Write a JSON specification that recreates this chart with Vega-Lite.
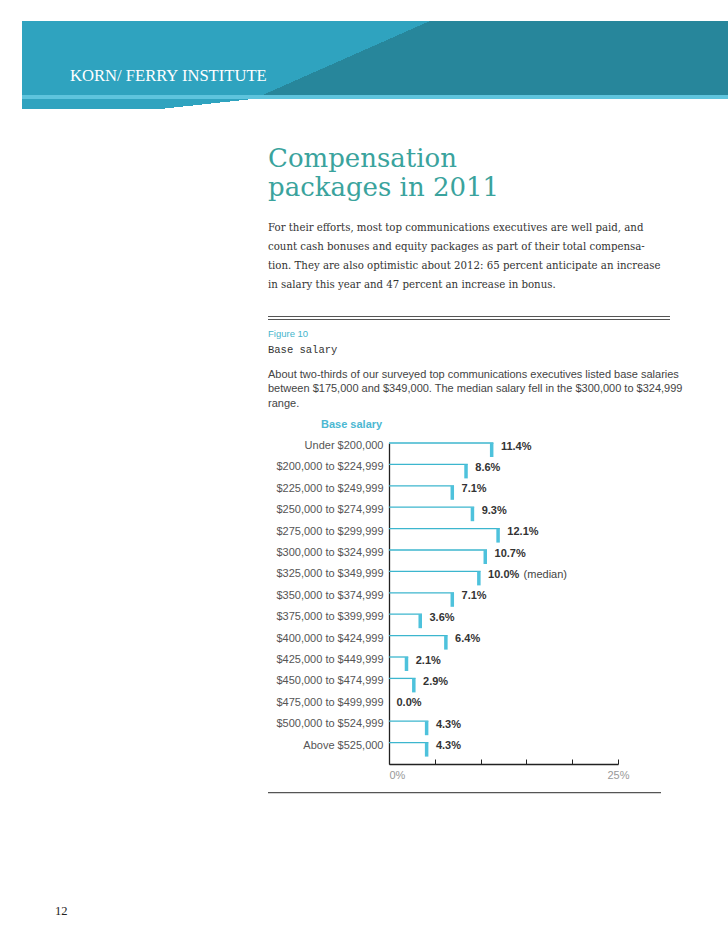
{
  "$schema": "https://vega.github.io/schema/vega-lite/v6.json",
  "padding": {"left": 22, "top": 21, "right": 0, "bottom": 0},
  "background": "white",
  "spacing": 0,
  "config": {"view": {"stroke": null}, "concat": {"spacing": 0}},
  "vconcat": [
    {
      "width": 706, "height": 74,
      "data": {"values": [{"part": "banner"}]},
      "mark": {"type": "rect", "stroke": null, "fill": {"gradient": "linear", "x1": 0, "y1": 0, "x2": 1, "y2": 0.237, "stops": [{"offset": 0, "color": "#2fa3bf"}, {"offset": 0.547, "color": "#2fa3bf"}, {"offset": 0.5471, "color": "#27869b"}, {"offset": 1, "color": "#27869b"}]}},
      "encoding": {},
      "title": {"text": "KORN/ FERRY INSTITUTE", "orient": "bottom", "anchor": "start", "frame": "group", "dx": 48, "offset": -14, "baseline": "alphabetic", "font": "Liberation Serif", "fontSize": 16.6, "fontWeight": "normal", "color": "white"}
    },
    {
      "width": 706, "height": 4,
      "data": {"values": [{"part": "stripe"}]},
      "mark": {"type": "rect", "stroke": null, "fill": "#5ec4dd"},
      "encoding": {}
    },
    {
      "width": 300, "height": 10,
      "data": {"values": [{"part": "wedge"}]},
      "mark": {"type": "rect", "stroke": null, "fill": {"gradient": "linear", "x1": 0, "y1": 0, "x2": 1, "y2": 0.31, "stops": [{"offset": 0, "color": "#2fa3bf"}, {"offset": 0.7025, "color": "#2fa3bf"}, {"offset": 0.7026, "color": "#ffffff"}, {"offset": 1, "color": "#ffffff"}]}},
      "encoding": {}
    },
    {
      "hconcat": [
        {"width": 246, "height": 1, "data": {"values": []}, "mark": "point"},
        {
          "vconcat": [
            {"width": 1, "height": 37, "data": {"values": []}, "mark": "point"},
            {
              "width": 402, "height": 26,
              "data": {"values": []}, "mark": "point",
              "title": {
                "text": ["Compensation", "packages in 2011"],
                "subtitle": ["For their efforts, most top communications executives are well paid, and", "count cash bonuses and equity packages as part of their total compensa-", "tion. They are also optimistic about 2012: 65 percent anticipate an increase", "in salary this year and 47 percent an increase in bonus."],
                "anchor": "start", "frame": "group", "offset": 0, "orient": "top",
                "font": "DejaVu Serif", "fontSize": 26, "fontWeight": "normal", "color": "#3aa39d", "lineHeight": 28.5,
                "subtitleFont": "DejaVu Serif", "subtitleFontSize": 10.2, "subtitleColor": "#333333", "subtitleLineHeight": 19, "subtitlePadding": 22, "subtitleFontWeight": "normal"
              }
            },
            {
              "width": 402, "height": 4,
              "data": {"values": [{"part": "double rule"}]},
              "mark": {"type": "rect", "stroke": null, "fill": {"gradient": "linear", "x1": 0, "y1": 0, "x2": 0, "y2": 1, "stops": [{"offset": 0, "color": "#555555"}, {"offset": 0.35, "color": "#555555"}, {"offset": 0.351, "color": "#ffffff"}, {"offset": 0.65, "color": "#ffffff"}, {"offset": 0.651, "color": "#555555"}, {"offset": 1, "color": "#555555"}]}},
              "encoding": {}
            },
            {"width": 1, "height": 9, "data": {"values": []}, "mark": "point"},
            {
              "width": 402, "height": 12.7,
              "data": {"values": []}, "mark": "point",
              "title": {
                "text": "Figure 10", "subtitle": "Base salary",
                "anchor": "start", "frame": "group", "offset": 0, "orient": "top",
                "font": "Liberation Sans", "fontSize": 9.5, "fontWeight": "normal", "color": "#45b5cc",
                "subtitleFont": "Liberation Mono", "subtitleFontSize": 10.5, "subtitleColor": "#333333", "subtitlePadding": 5.6, "subtitleFontWeight": "normal"
              }
            },
            {
              "width": 402, "height": 8.5,
              "data": {"values": []}, "mark": "point",
              "title": {
                "text": ["About two-thirds of our surveyed top communications executives listed base salaries", "between $175,000 and $349,000. The median salary fell in the $300,000 to $324,999", "range."],
                "anchor": "start", "frame": "group", "offset": 0, "orient": "top",
                "font": "Liberation Sans", "fontSize": 11, "fontWeight": "normal", "color": "#444444", "lineHeight": 14.7
              }
            }
          ]
        }
      ]
    },
    {
      "bounds": "flush",
      "hconcat": [
        {"width": 367, "height": 1, "data": {"values": []}, "mark": "point"},
        {
          "width": 229, "height": 321,
          "data": {"values": [
            {"cat": "Under $200,000", "value": 0.114},
            {"cat": "$200,000 to $224,999", "value": 0.086},
            {"cat": "$225,000 to $249,999", "value": 0.071},
            {"cat": "$250,000 to $274,999", "value": 0.093},
            {"cat": "$275,000 to $299,999", "value": 0.121},
            {"cat": "$300,000 to $324,999", "value": 0.107},
            {"cat": "$325,000 to $349,999", "value": 0.100, "note": "(median)"},
            {"cat": "$350,000 to $374,999", "value": 0.071},
            {"cat": "$375,000 to $399,999", "value": 0.036},
            {"cat": "$400,000 to $424,999", "value": 0.064},
            {"cat": "$425,000 to $449,999", "value": 0.021},
            {"cat": "$450,000 to $474,999", "value": 0.029},
            {"cat": "$475,000 to $499,999", "value": 0.000},
            {"cat": "$500,000 to $524,999", "value": 0.043},
            {"cat": "Above $525,000", "value": 0.043}
          ]},
          "title": {"text": "Base salary", "anchor": "start", "frame": "group", "orient": "top", "dx": -68, "offset": 10, "font": "Liberation Sans", "fontSize": 11, "fontWeight": "bold", "color": "#4cb8d2"},
          "encoding": {
            "y": {"field": "cat", "type": "nominal", "sort": null, "scale": {"paddingInner": 0, "paddingOuter": 0},
              "axis": {"title": null, "ticks": false, "tickSize": 0, "labelPadding": 6, "labelFont": "Liberation Sans", "labelFontSize": 11, "labelColor": "#555555", "labelOffset": -7.7, "domainColor": "#222222", "domainWidth": 1.3, "grid": false, "labelLimit": 200}},
            "x": {"field": "value", "type": "quantitative", "scale": {"domain": [0, 0.25], "nice": false, "zero": true},
              "axis": {"title": null, "values": [0, 0.05, 0.1, 0.15, 0.2, 0.25], "tickSize": -5, "tickColor": "#222222", "tickWidth": 1, "domainColor": "#222222", "domainWidth": 1.3, "grid": false,
                "labelExpr": "datum.value == 0 || datum.value == 0.25 ? format(datum.value, '.0%') : ''",
                "labelFont": "Liberation Sans", "labelFontSize": 11, "labelColor": "#999999", "labelPadding": 10, "labelFlush": false, "labelOverlap": false,
                "labelAlign": {"condition": {"test": "datum.value == 0", "value": "left"}, "value": "center"}}}
          },
          "layer": [
            {"mark": {"type": "rule", "color": "#3cb6ce", "strokeWidth": 1.3, "yOffset": -10.7}, "encoding": {"x2": {"datum": 0}}},
            {"transform": [{"filter": "datum.value > 0"}], "mark": {"type": "tick", "orient": "vertical", "thickness": 3.5, "size": 14, "color": "#4ec2dc", "opacity": 1, "yOffset": -3.7, "xOffset": -1.75}},
            {"mark": {"type": "text", "align": "left", "baseline": "middle", "dx": 7.5, "yOffset": -7.2, "font": "Liberation Sans", "fontSize": 11, "fontWeight": "bold", "color": "#333333"}, "encoding": {"text": {"field": "value", "type": "quantitative", "format": ".1%"}}},
            {"transform": [{"filter": "isValid(datum.note)"}], "mark": {"type": "text", "align": "left", "baseline": "middle", "dx": 43, "yOffset": -7.2, "font": "Liberation Sans", "fontSize": 11, "fontWeight": "normal", "color": "#444444"}, "encoding": {"text": {"field": "note", "type": "nominal"}}}
          ]
        }
      ]
    },
    {"width": 1, "height": 12, "data": {"values": []}, "mark": "point"},
    {
      "hconcat": [
        {"width": 246, "height": 1, "data": {"values": []}, "mark": "point"},
        {"width": 393, "height": 1.2, "data": {"values": [{"part": "bottom rule"}]}, "mark": {"type": "rect", "stroke": null, "fill": "#555555"}, "encoding": {}}
      ]
    },
    {"width": 1, "height": 110, "data": {"values": []}, "mark": "point"},
    {
      "width": 1, "height": 1, "data": {"values": []}, "mark": "point",
      "title": {"text": "12", "anchor": "start", "frame": "group", "orient": "top", "dx": 33, "offset": 0, "font": "Liberation Serif", "fontSize": 12.5, "fontWeight": "normal", "color": "#222222"}
    }
  ]
}
